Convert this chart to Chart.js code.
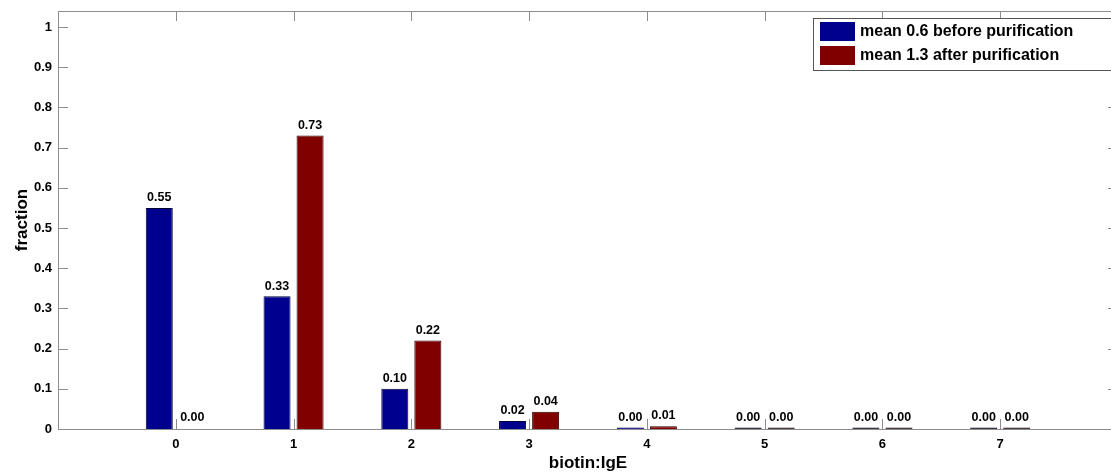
<!DOCTYPE html>
<html>
<head>
<meta charset="utf-8">
<script src="https://cdn.jsdelivr.net/npm/chart.js@4.4.0/dist/chart.umd.min.js"></script>
<style>
  html, body { margin: 0; padding: 0; background: #fff; overflow: hidden; }
  #wrap { width: 1120px; height: 474px; position: relative; }
</style>
</head>
<body>
<div id="wrap"><canvas id="barChart" width="1120" height="474"></canvas></div>
<script>
// biotin:IgE ratio categories
const ratios = [0, 1, 2, 3, 4, 5, 6, 7];
const beforeVals = [0.55, 0.33, 0.10, 0.02, 0.004, 0, 0, 0];
const afterVals = [null, 0.73, 0.22, 0.043, 0.007, 0, 0, 0];
const seriesNames = ['mean 0.6 before purification', 'mean 1.3 after purification'];
const seriesColors = ['#00008f', '#800000'];
const yTicks = [0, 0.1, 0.2, 0.3, 0.4, 0.5, 0.6, 0.7, 0.8, 0.9, 1];

const FONT = '"Liberation Sans", Arial, Helvetica, sans-serif';
const frameColor = '#8c8c8c';

// inward ticks + box frame, value labels, legend box
const matlabLook = {
    id: 'matlabLook',
    afterDatasetsDraw(chart) {
        const ctx = chart.ctx;
        const a = chart.chartArea;
        const xs = chart.scales.x, ys = chart.scales.y;
        ctx.save();
        ctx.strokeStyle = frameColor;
        ctx.lineWidth = 1;
        ctx.strokeRect(Math.round(a.left) + 0.5, Math.round(a.top) + 0.5,
            Math.round(a.right - a.left), Math.round(a.bottom - a.top));
        ctx.beginPath();
        ratios.forEach(function (r) {
            const px = Math.round(xs.getPixelForValue(r)) + 0.5;
            ctx.moveTo(px, a.bottom); ctx.lineTo(px, a.bottom - 10);
            ctx.moveTo(px, a.top); ctx.lineTo(px, a.top + 10);
        });
        yTicks.forEach(function (t) {
            const py = Math.round(ys.getPixelForValue(t)) + 0.5;
            ctx.moveTo(a.left, py); ctx.lineTo(a.left + 10, py);
            ctx.moveTo(a.right, py); ctx.lineTo(a.right - 10, py);
        });
        ctx.stroke();

        // value labels
        ctx.fillStyle = '#000';
        ctx.font = 'bold 12.5px ' + FONT;
        ctx.textAlign = 'center';
        ctx.textBaseline = 'bottom';
        chart.data.datasets.forEach(function (ds, i) {
            chart.getDatasetMeta(i).data.forEach(function (bar, j) {
                const v = ds.data[j].y == null ? 0 : ds.data[j].y;
                const top = Math.min(ys.getPixelForValue(v), ys.getPixelForValue(0) - 1.5);
                ctx.fillText(v.toFixed(2), bar.x, top - 4);
            });
        });

        // legend
        const lx = 813, ly = 18, lw = 310, lh = 52;
        ctx.fillStyle = '#fff';
        ctx.fillRect(lx, ly, lw, lh);
        ctx.strokeStyle = '#555';
        ctx.strokeRect(lx + 0.5, ly + 0.5, lw, lh);
        ctx.font = 'bold 16px ' + FONT;
        ctx.textAlign = 'left';
        ctx.textBaseline = 'middle';
        seriesNames.forEach(function (name, i) {
            const yy = ly + 4 + i * 24;
            ctx.fillStyle = seriesColors[i];
            ctx.fillRect(lx + 7, yy, 35, 19);
            ctx.fillStyle = '#000';
            ctx.fillText(name, lx + 47, yy + 10);
        });
        ctx.restore();
    }
};

function barFill(color) {
    return function (c) {
        return c.raw && c.raw.y === 0 ? '#111' : color;
    };
}

new Chart(document.getElementById('barChart'), {
    type: 'bar',
    data: {
        datasets: [
            {
                label: seriesNames[0],
                data: ratios.map(function (r, i) { return { x: r, y: beforeVals[i] }; }),
                backgroundColor: barFill(seriesColors[0]),
                borderColor: '#000033',
                borderWidth: 1,
                minBarLength: 1.5
            },
            {
                label: seriesNames[1],
                data: ratios.map(function (r, i) { return { x: r, y: afterVals[i] }; }),
                backgroundColor: barFill(seriesColors[1]),
                borderColor: '#330000',
                borderWidth: 1,
                minBarLength: 1.5
            }
        ]
    },
    options: {
        responsive: false,
        animation: false,
        categoryPercentage: 0.561,
        barPercentage: 0.818,
        layout: { padding: { top: 11, right: 2, left: 0, bottom: 0 } },
        plugins: {
            legend: { display: false },
            tooltip: { enabled: false }
        },
        scales: {
            x: {
                type: 'linear',
                min: -1,
                max: 8,
                offset: false,
                grid: { display: false, drawTicks: false },
                border: { display: false },
                afterBuildTicks: function (scale) {
                    scale.ticks = ratios.map(function (r) { return { value: r }; });
                },
                afterFit: function (scale) {
                    scale.height = 45;
                    scale.paddingLeft = 0;
                    scale.paddingRight = 0;
                },
                ticks: {
                    autoSkip: false,
                    maxRotation: 0,
                    color: '#000',
                    padding: 8,
                    font: { family: FONT, size: 13, weight: 'bold' },
                    callback: function (v) { return String(v); }
                },
                title: {
                    display: true,
                    text: 'biotin:IgE',
                    color: '#000',
                    padding: { top: 1, bottom: 0 },
                    font: { family: FONT, size: 17, weight: 'bold' }
                }
            },
            y: {
                min: 0,
                max: 1.04,
                grid: { display: false, drawTicks: false },
                border: { display: false },
                afterBuildTicks: function (scale) {
                    scale.ticks = yTicks.map(function (t) { return { value: t }; });
                },
                afterFit: function (scale) {
                    scale.width = 58;
                    scale.paddingTop = 0;
                    scale.paddingBottom = 0;
                },
                ticks: {
                    autoSkip: false,
                    color: '#000',
                    padding: 6,
                    font: { family: FONT, size: 13, weight: 'bold' },
                    callback: function (v) { return String(v); }
                },
                title: {
                    display: true,
                    text: 'fraction',
                    color: '#000',
                    padding: { top: 12, bottom: 0 },
                    font: { family: FONT, size: 17, weight: 'bold' }
                }
            }
        }
    },
    plugins: [matlabLook]
});
</script>
</body>
</html>
